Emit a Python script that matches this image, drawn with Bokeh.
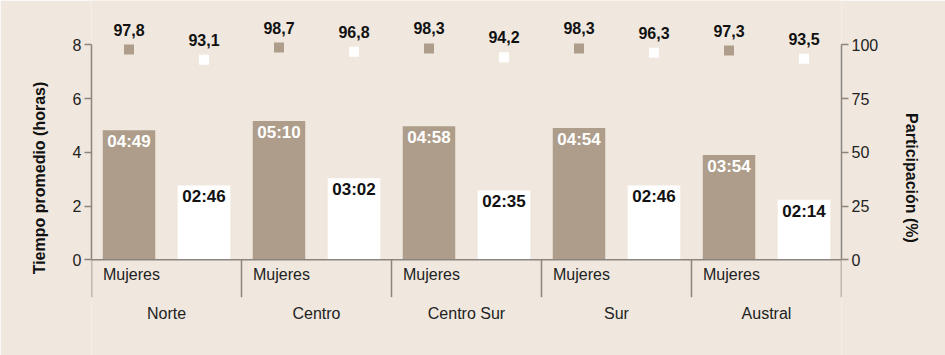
from bokeh.plotting import figure
from bokeh.models import FactorRange, Range1d, LinearAxis, FixedTicker, Span
from bokeh.embed import file_html
from bokeh.resources import INLINE
from bokeh.core.properties import value

regiones = ["Norte", "Centro", "Centro Sur", "Sur", "Austral"]
sexos = ["Mujeres", "Hombres"]
mujeres_horas = [4.817, 5.167, 4.967, 4.900, 3.900]
hombres_horas = [2.767, 3.033, 2.583, 2.767, 2.233]
mujeres_etiq = ["04:49", "05:10", "04:58", "04:54", "03:54"]
hombres_etiq = ["02:46", "03:02", "02:35", "02:46", "02:14"]
mujeres_part = [97.8, 98.7, 98.3, 98.3, 97.3]
hombres_part = [93.1, 96.8, 94.2, 96.3, 93.5]
mujeres_part_etiq = ["97,8", "98,7", "98,3", "98,3", "97,3"]
hombres_part_etiq = ["93,1", "96,8", "94,2", "96,3", "93,5"]
horas_ticks = [0, 2, 4, 6, 8]
part_ticks = [0, 25, 50, 75, 100]

BG = "#f0e8de"
TAUPE = "#ae9d8a"
AXC = "#8b8580"
FONT = "Liberation Sans"

factors = [(r, s) for r in regiones for s in sexos]
Y0, Y1 = -3.561, 9.648
SCALE = 100 / 8

p = figure(width=945, height=355, output_backend="svg", toolbar_location=None,
           x_range=FactorRange(*factors, range_padding=0, group_padding=0, factor_padding=0,
                               subgroup_padding=0),
           y_range=Range1d(Y0, Y1),
           x_axis_location=None, y_axis_location=None,
           min_border_left=91, min_border_right=104, min_border_top=0, min_border_bottom=0,
           background_fill_color=BG, border_fill_color=BG, outline_line_color=None)
p.xgrid.visible = False
p.ygrid.visible = False
p.extra_y_ranges = {"pct": Range1d(Y0 * SCALE, Y1 * SCALE)}

def style_axis(ax):
    ax.axis_line_color = AXC
    ax.axis_line_width = 1.5
    ax.major_tick_line_color = AXC
    ax.major_tick_line_width = 1.5
    ax.major_tick_out = 7
    ax.major_tick_in = 0
    ax.minor_tick_line_color = None
    ax.major_label_text_font = FONT
    ax.major_label_text_font_size = "16px"
    ax.major_label_text_color = "#222222"
    ax.major_label_standoff = 3
    ax.axis_label_text_font = FONT
    ax.axis_label_text_font_size = "16px"
    ax.axis_label_text_font_style = "bold"
    ax.axis_label_text_color = "#111111"
    ax.axis_label_standoff = 22

left = LinearAxis(ticker=FixedTicker(ticks=horas_ticks), bounds=(0, 8),
                  axis_label="Tiempo promedio (horas)")
style_axis(left)
p.add_layout(left, "left")
right = LinearAxis(ticker=FixedTicker(ticks=part_ticks), bounds=(0, 100), y_range_name="pct",
                   axis_label="Participación (%)")
style_axis(right)
p.add_layout(right, "right")

# baseline
p.add_layout(Span(location=0, dimension="width", line_color=AXC, line_width=1.5))

# separators
sep_x = [(regiones[0], "Mujeres", -0.5)] + [(r, "Hombres", 0.5) for r in regiones]
p.segment(x0=sep_x, y0=[0] * len(sep_x), x1=sep_x, y1=[-1.39] * len(sep_x),
          line_color=AXC, line_width=1.5)

xm = [(r, "Mujeres") for r in regiones]
xh = [(r, "Hombres") for r in regiones]

p.vbar(x=xm, top=mujeres_horas, width=0.7, fill_color=TAUPE, line_color=None)
p.vbar(x=xh, top=hombres_horas, width=0.7, fill_color="white", line_color=None)

p.text(x=xm, y=mujeres_horas, text=mujeres_etiq, text_align="center", text_baseline="top",
       y_offset=2, text_font=value(FONT), text_font_size="17px", text_font_style="bold",
       text_color="white")
p.text(x=xh, y=hombres_horas, text=hombres_etiq, text_align="center", text_baseline="top",
       y_offset=2, text_font=value(FONT), text_font_size="17px", text_font_style="bold",
       text_color="#111111")

p.scatter(x=xm, y=mujeres_part, y_range_name="pct", marker="square", size=10,
          fill_color=TAUPE, line_color=None)
p.scatter(x=xh, y=hombres_part, y_range_name="pct", marker="square", size=10,
          fill_color="white", line_color=None)
p.text(x=xm, y=mujeres_part, y_range_name="pct", text=mujeres_part_etiq, text_align="center",
       text_baseline="alphabetic", y_offset=-20, text_font=value(FONT), text_font_size="16px",
       text_font_style="bold", text_color="#111111")
p.text(x=xh, y=hombres_part, y_range_name="pct", text=hombres_part_etiq, text_align="center",
       text_baseline="alphabetic", y_offset=-20, text_font=value(FONT), text_font_size="16px",
       text_font_style="bold", text_color="#111111")

# category labels
p.text(x=xm, y=[-0.77] * len(regiones), text=["Mujeres"] * len(regiones), text_align="left",
       text_baseline="alphabetic", x_offset=-26, y_offset=-6, text_font=value(FONT),
       text_font_size="16px", text_color="#222222")
xg = [(r, "Mujeres", 0.5) for r in regiones]
p.text(x=xg, y=[-2.26] * len(regiones), text=regiones, text_align="center",
       text_baseline="alphabetic", y_offset=-7, text_font=value(FONT), text_font_size="16px",
       text_color="#222222")

open("out.html", "w").write(file_html(p, INLINE))
